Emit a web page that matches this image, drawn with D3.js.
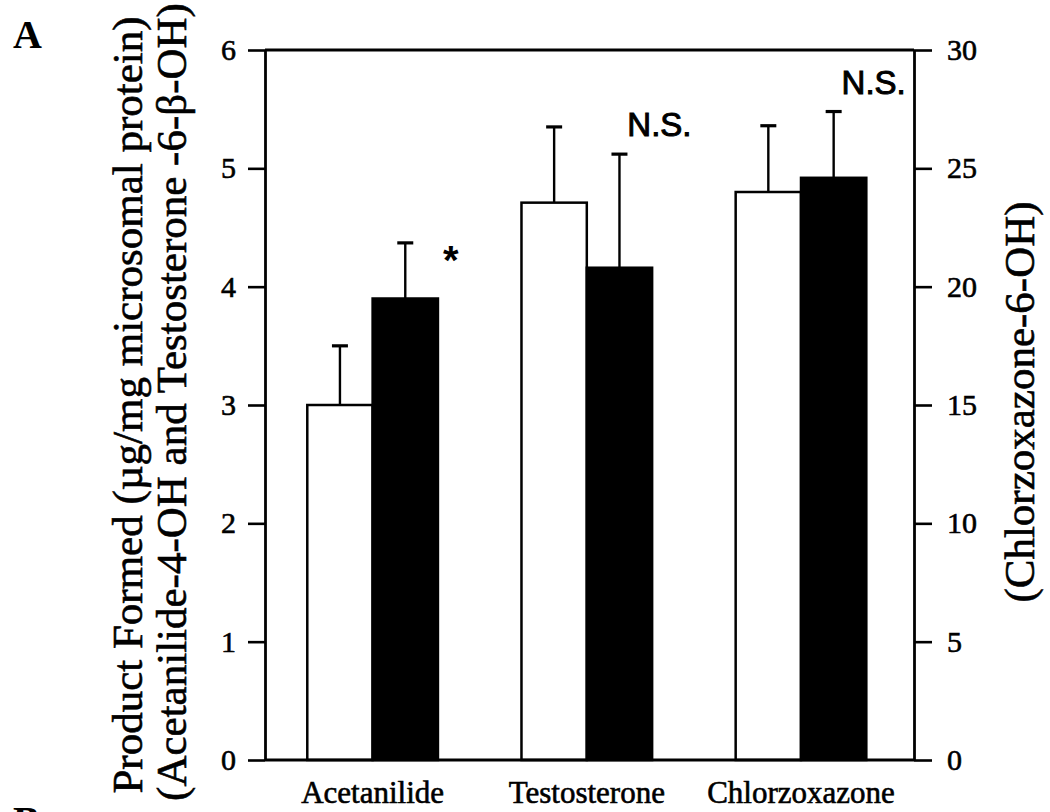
<!DOCTYPE html>
<html>
<head>
<meta charset="utf-8">
<script src="https://cdn.jsdelivr.net/npm/d3@7"></script>
<style>
  html, body { margin: 0; padding: 0; background: #fff; }
  svg { display: block; }
</style>
</head>
<body>
<svg id="chart" width="1050" height="812"></svg>
<script>
// Substrate groups and which value axis each group is read against
const categories = ["Acetanilide", "Testosterone", "Chlorzoxazone"];
const valueAxis = ["left", "left", "right"];

// Control (open bars) and treated (filled bars): mean and SD
const controlMean = [3.0, 4.71, 24.0];
const controlSD   = [0.5, 0.64, 2.8];
const treatedMean = [3.9, 4.16, 24.6];
const treatedSD   = [0.47, 0.96, 2.8];

// Significance marks for treated vs control
const significance = ["*", "N.S.", "N.S."];

const leftTicks  = [0, 1, 2, 3, 4, 5, 6];
const rightTicks = [0, 5, 10, 15, 20, 25, 30];

const leftTitle  = ["Product Formed (µg/mg microsomal protein)",
                    "(Acetanilide-4-OH and Testosterone -6-β-OH)"];
const rightTitle = "(Chlorzoxazone-6-OH)";
const panelLabels = ["A", "B"];

const serif = "'Liberation Serif', 'Times New Roman', serif";
const sans  = "'Liberation Sans', Arial, sans-serif";

const svg = d3.select("#chart");
const frame = { left: 265, right: 914, top: 50, bottom: 760 };

const x = d3.scaleBand()
  .domain(categories)
  .range([frame.left, frame.right])
  .paddingInner(0.39)
  .paddingOuter(0.21)
  .align(0.47);

const sub = d3.scaleBand()
  .domain(["control", "treated"])
  .range([0, x.bandwidth()]);

const yL = d3.scaleLinear().domain([0, 6]).range([frame.bottom, frame.top]);
const yR = d3.scaleLinear().domain([0, 30]).range([frame.bottom, frame.top]);
const yOf = i => (valueAxis[i] === "left" ? yL : yR);

// Slightly heavier type, as in the printed figure
const heavy = sel => sel.attr("stroke", "#000").attr("stroke-width", 0.6);

// Bars
const bars = [];
categories.forEach((c, i) => {
  bars.push({ cat: c, i, kind: "control", mean: controlMean[i], sd: controlSD[i] });
  bars.push({ cat: c, i, kind: "treated", mean: treatedMean[i], sd: treatedSD[i] });
});

const gBars = svg.append("g");

// Error bars (drawn first so bar outlines sit on top of the stem base)
gBars.selectAll("line.stem").data(bars).join("line")
  .attr("class", "stem")
  .attr("x1", d => x(d.cat) + sub(d.kind) + sub.bandwidth() / 2)
  .attr("x2", d => x(d.cat) + sub(d.kind) + sub.bandwidth() / 2)
  .attr("y1", d => yOf(d.i)(d.mean))
  .attr("y2", d => yOf(d.i)(d.mean + d.sd))
  .attr("stroke", "#000").attr("stroke-width", 2.4);

gBars.selectAll("line.cap").data(bars).join("line")
  .attr("class", "cap")
  .attr("x1", d => x(d.cat) + sub(d.kind) + sub.bandwidth() / 2 - 8)
  .attr("x2", d => x(d.cat) + sub(d.kind) + sub.bandwidth() / 2 + 8)
  .attr("y1", d => yOf(d.i)(d.mean + d.sd))
  .attr("y2", d => yOf(d.i)(d.mean + d.sd))
  .attr("stroke", "#000").attr("stroke-width", 3.2);

gBars.selectAll("rect").data(bars).join("rect")
  .attr("x", d => x(d.cat) + sub(d.kind))
  .attr("width", sub.bandwidth())
  .attr("y", d => yOf(d.i)(d.mean))
  .attr("height", d => yOf(d.i)(0) - yOf(d.i)(d.mean))
  .attr("fill", d => d.kind === "control" ? "#fff" : "#000")
  .attr("stroke", "#000")
  .attr("stroke-width", 2.5);

// Frame: top and bottom lines between the two axes
svg.append("line")
  .attr("x1", frame.left).attr("x2", frame.right)
  .attr("y1", frame.top).attr("y2", frame.top)
  .attr("stroke", "#000").attr("stroke-width", 2.8);
svg.append("line")
  .attr("x1", frame.left).attr("x2", frame.right)
  .attr("y1", frame.bottom).attr("y2", frame.bottom)
  .attr("stroke", "#000").attr("stroke-width", 2.8);

// Value axes
const axL = svg.append("g")
  .attr("transform", `translate(${frame.left},0)`)
  .call(d3.axisLeft(yL).tickValues(leftTicks).tickFormat(d3.format("d"))
    .tickSize(17).tickSizeOuter(0).tickPadding(12));
const axR = svg.append("g")
  .attr("transform", `translate(${frame.right},0)`)
  .call(d3.axisRight(yR).tickValues(rightTicks).tickFormat(d3.format("d"))
    .tickSize(18).tickSizeOuter(0).tickPadding(15));

[axL, axR].forEach(ax => {
  ax.select(".domain").attr("stroke", "#000").attr("stroke-width", 2.8);
  ax.selectAll(".tick line").attr("stroke", "#000").attr("stroke-width", 2.6);
  ax.selectAll(".tick text")
    .attr("font-family", serif)
    .attr("font-size", 30)
    .attr("fill", "#000")
    .call(heavy);
});

// Category labels
svg.append("g").selectAll("text").data(categories).join("text")
  .attr("x", d => x(d) + x.bandwidth() / 2)
  .attr("y", 803)
  .attr("text-anchor", "middle")
  .attr("font-family", serif)
  .attr("font-size", 31)
  .call(heavy)
  .text(d => d);

// Significance marks next to the treated bars
categories.forEach((c, i) => {
  const top = yOf(i)(treatedMean[i] + treatedSD[i]);
  const right = x(c) + sub("treated") + sub.bandwidth();
  if (significance[i] === "*") {
    svg.append("text")
      .attr("x", right + 5)
      .attr("y", top + 31)
      .attr("font-family", sans)
      .attr("font-weight", "bold")
      .attr("font-size", 40)
      .text(significance[i]);
  } else {
    svg.append("text")
      .attr("x", x(c) + sub("treated") + sub.bandwidth() / 2 + 40)
      .attr("y", top - 18)
      .attr("text-anchor", "middle")
      .attr("font-family", sans)
      .attr("font-size", 33)
      .call(heavy)
      .attr("stroke-width", 1)
      .text(significance[i]);
  }
});

// Axis titles (rotated, reading bottom to top)
const midY = (frame.top + frame.bottom) / 2;
svg.append("text")
  .attr("transform", "rotate(-90)")
  .attr("x", -midY).attr("y", 142)
  .attr("text-anchor", "middle")
  .attr("font-family", serif).attr("font-size", 43)
  .call(heavy)
  .text(leftTitle[0]);
svg.append("text")
  .attr("transform", "rotate(-90)")
  .attr("x", -midY + 3).attr("y", 186)
  .attr("text-anchor", "middle")
  .attr("font-family", serif).attr("font-size", 43)
  .call(heavy)
  .text(leftTitle[1]);
svg.append("text")
  .attr("transform", "rotate(-90)")
  .attr("x", -402).attr("y", 1034)
  .attr("text-anchor", "middle")
  .attr("font-family", serif).attr("font-size", 43)
  .call(heavy)
  .text(rightTitle);

// Panel letters
svg.append("text")
  .attr("x", 13).attr("y", 48)
  .attr("font-family", serif).attr("font-weight", "bold").attr("font-size", 40)
  .text(panelLabels[0]);
svg.append("text")
  .attr("x", 13).attr("y", 834)
  .attr("font-family", serif).attr("font-weight", "bold").attr("font-size", 40)
  .text(panelLabels[1]);
</script>
</body>
</html>
